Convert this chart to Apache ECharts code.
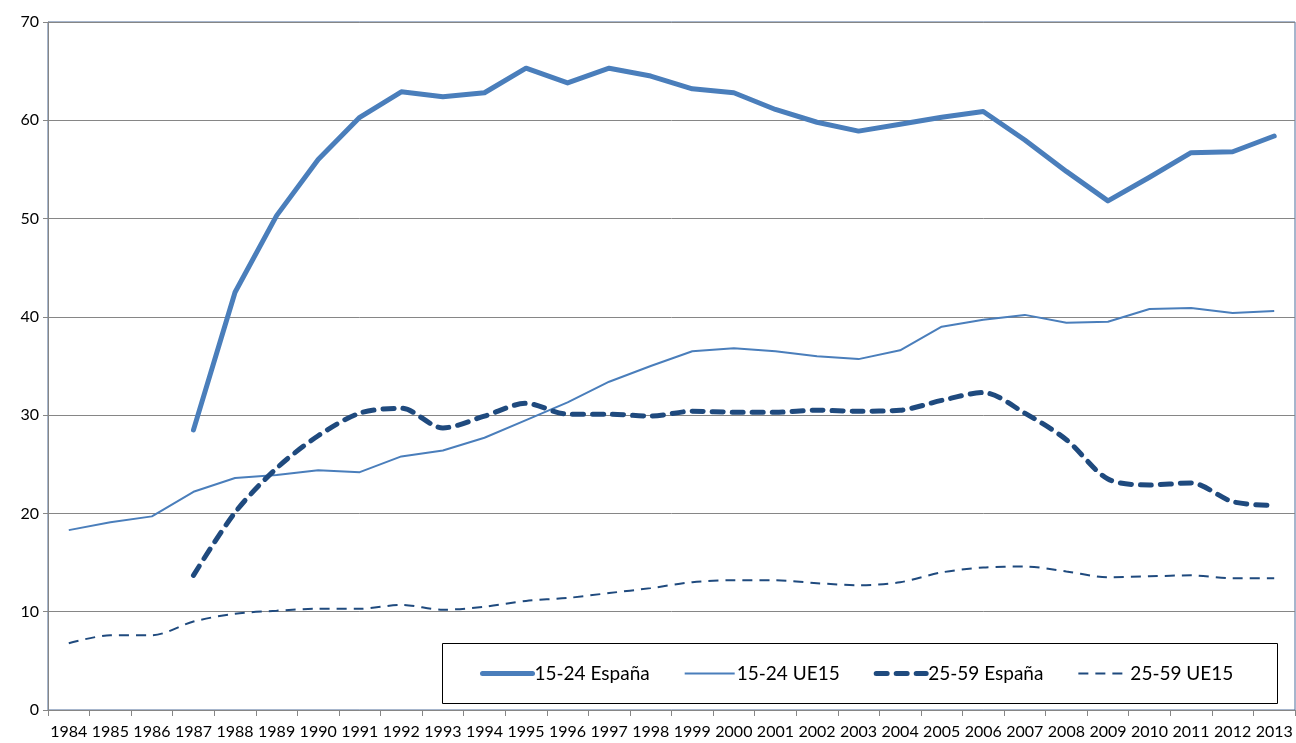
<!DOCTYPE html>
<html>
<head>
<meta charset="utf-8">
<script src="https://cdn.jsdelivr.net/npm/echarts@6/dist/echarts.min.js"></script>
<style>
  html, body { margin: 0; padding: 0; background: #fff; }
  #chart { width: 1296px; height: 743px; }
</style>
</head>
<body>
<div id="chart"></div>
<script>
// años
const years = ['1984','1985','1986','1987','1988','1989','1990','1991','1992','1993',
  '1994','1995','1996','1997','1998','1999','2000','2001','2002','2003',
  '2004','2005','2006','2007','2008','2009','2010','2011','2012','2013']

// 15-24 España (sin datos antes de 1987)
const jovenEspana = [null, null, null, 28.5, 42.5, 50.3, 56.0, 60.3, 62.9, 62.4,
  62.8, 65.3, 63.8, 65.3, 64.5, 63.2, 62.8, 61.1, 59.8, 58.9,
  59.6, 60.3, 60.9, 58.0, 54.8, 51.8, 54.2, 56.7, 56.8, 58.4]

// 15-24 UE15
const jovenUE15 = [18.3, 19.1, 19.7, 22.2, 23.6, 23.9, 24.4, 24.2, 25.8, 26.4,
  27.7, 29.5, 31.3, 33.4, 35.0, 36.5, 36.8, 36.5, 36.0, 35.7,
  36.6, 39.0, 39.7, 40.2, 39.4, 39.5, 40.8, 40.9, 40.4, 40.6]

// 25-59 España
const adultoEspana = [null, null, null, 13.7, 20.1, 24.6, 27.9, 30.2, 30.7, 28.7,
  29.9, 31.2, 30.1, 30.1, 29.9, 30.4, 30.3, 30.3, 30.5, 30.4,
  30.5, 31.5, 32.3, 30.2, 27.5, 23.5, 22.9, 23.1, 21.2, 20.8]

// 25-59 UE15
const adultoUE15 = [6.8, 7.6, 7.6, 9.0, 9.8, 10.1, 10.3, 10.3, 10.7, 10.2,
  10.5, 11.1, 11.4, 11.9, 12.4, 13.0, 13.2, 13.2, 12.9, 12.7,
  13.0, 14.0, 14.5, 14.6, 14.1, 13.5, 13.6, 13.7, 13.4, 13.4]

const azul = '#4a7ebb'
const azulOscuro = '#1f4a7e'
const gris = '#868686'
const fuente = 'Lato, "Noto Sans", sans-serif'

// estilos de cada serie (se usan también en la leyenda)
const estiloJovenEspana = { color: azul, width: 5, cap: 'round', join: 'round' }
const estiloJovenUE15 = { color: azul, width: 2 }
const estiloAdultoEspana = { color: azulOscuro, width: 5, type: [11, 9], cap: 'round' }
const estiloAdultoUE15 = { color: azulOscuro, width: 2, type: [10, 7] }

const chart = echarts.init(document.getElementById('chart'))

const options = {
  animation: false,
  textStyle: { fontFamily: fuente },
  grid: {
    left: 48,
    right: 1,
    top: 22,
    bottom: 33,
    show: true,
    borderColor: '#4f6d9a',
    borderWidth: 1,
  },
  // leyenda dentro del recuadro
  legend: {
    left: 475,
    top: 659,
    itemWidth: 50,
    itemHeight: 14,
    itemGap: 34,
    itemStyle: { opacity: 0 },
    textStyle: { fontFamily: fuente, fontSize: 19, color: '#000', padding: [0, 0, 0, -3] },
    data: [
      { name: '15-24 España', lineStyle: estiloJovenEspana },
      { name: '15-24 UE15', lineStyle: estiloJovenUE15 },
      { name: '25-59 España', lineStyle: estiloAdultoEspana },
      { name: '25-59 UE15', lineStyle: estiloAdultoUE15 },
    ],
  },
  graphic: [
    {
      type: 'rect',
      shape: { x: 442.5, y: 643.5, width: 835, height: 60 },
      style: { fill: 'none', stroke: '#000', lineWidth: 1 },
      z: 0,
    },
  ],
  xAxis: {
    type: 'category',
    data: years,
    boundaryGap: true,
    axisLine: { lineStyle: { color: gris, width: 1 } },
    axisTick: { show: true, length: 6, lineStyle: { color: gris } },
    axisLabel: { color: '#000', fontSize: 16, margin: 14, interval: 0, fontFamily: fuente },
  },
  yAxis: {
    type: 'value',
    min: 0,
    max: 70,
    interval: 10,
    axisLine: { show: true, lineStyle: { color: gris, width: 1 } },
    axisTick: { show: true, length: 5, lineStyle: { color: gris } },
    axisLabel: { color: '#000', fontSize: 16, margin: 9, fontFamily: fuente },
    splitLine: { lineStyle: { color: gris, width: 1 } },
  },
  series: [
    {
      name: '15-24 España',
      type: 'line',
      data: jovenEspana,
      symbol: 'none',
      lineStyle: estiloJovenEspana,
      itemStyle: { color: azul },
      z: 4,
    },
    {
      name: '15-24 UE15',
      type: 'line',
      data: jovenUE15,
      symbol: 'none',
      lineStyle: estiloJovenUE15,
      itemStyle: { color: azul },
      z: 3,
    },
    {
      name: '25-59 España',
      type: 'line',
      data: adultoEspana,
      symbol: 'none',
      smooth: 0.3,
      lineStyle: estiloAdultoEspana,
      itemStyle: { color: azulOscuro },
      z: 3,
    },
    {
      name: '25-59 UE15',
      type: 'line',
      data: adultoUE15,
      symbol: 'none',
      smooth: 0.3,
      lineStyle: estiloAdultoUE15,
      itemStyle: { color: azulOscuro },
      z: 3,
    },
  ],
}

chart.setOption(options)
window.addEventListener('resize', () => {
  chart.resize()
})
</script>
</body>
</html>
